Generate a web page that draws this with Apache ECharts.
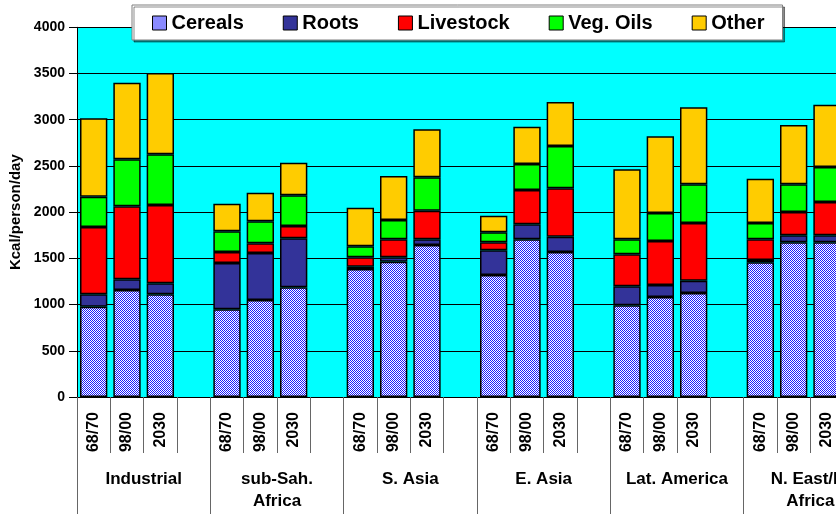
<!DOCTYPE html>
<html>
<head>
<meta charset="utf-8">
<script src="https://cdn.jsdelivr.net/npm/echarts@6/dist/echarts.min.js"></script>
<style>
html,body{margin:0;padding:0;background:#fff;}
#chart{width:836px;height:514px;}
</style>
</head>
<body>
<div id="chart"></div>
<script>
// ---- data (Kcal/person/day), 4 slots per region: 68/70, 98/00, 2030, spacer ----
var regions = ['Industrial', 'sub-Sah.\nAfrica', 'S. Asia', 'E. Asia', 'Lat. America', 'N. East/N.\nAfrica'];
var periods = ['68/70', '98/00', '2030', ''];
var yTicks = [0, 500, 1000, 1500, 2000, 2500, 3000, 3500, 4000];

var cereals   = [977, 1158, 1111, '-',  949, 1049, 1187, '-',  1385, 1464, 1644, '-',  1320, 1706, 1569, '-',  992, 1082, 1125, '-',  1457, 1674, 1674, '-'];
var roots     = [134,  115,  119, '-',  501,  509,  530, '-',    25,   47,   62, '-',   267,  162,  166, '-',  206,  130,  134, '-',    25,   75,   75, '-'];
var livestock = [728,  790,  847, '-',  119,  105,  133, '-',   101,  195,  310, '-',    87,  372,  523, '-',  346,  476,  624, '-',   224,  252,  361, '-'];
var vegOils   = [328,  509,  549, '-',  224,  238,  332, '-',   119,  209,  361, '-',   108,  281,  458, '-',  162,  303,  418, '-',   177,  300,  378, '-'];
var other     = [848,  829,  879, '-',  298,  310,  353, '-',   418,  476,  519, '-',   180,  404,  476, '-',  757,  830,  833, '-',   479,  642,  674, '-'];

var categories = [];
regions.forEach(function(){ periods.forEach(function(p){ categories.push(p); }); });

// checker pattern for cereals
var pc = document.createElement('canvas');
pc.width = 2; pc.height = 2;
var pctx = pc.getContext('2d');
pctx.fillStyle = '#ffffff'; pctx.fillRect(0,0,2,2);
pctx.fillStyle = '#1a1aff'; pctx.fillRect(0,0,1,1); pctx.fillRect(1,1,1,1);

var FONT = "'Liberation Sans', Arial, sans-serif";
var chart = echarts.init(document.getElementById('chart'));

function mk(name, data, color) {
  return {
    name: name, type: 'bar', stack: 'total', data: data,
    barWidth: '82%',
    itemStyle: { color: color, borderColor: '#000', borderWidth: 1.5 },
    emphasis: { disabled: true },
    animation: false
  };
}

chart.setOption({
  animation: false,
  textStyle: { fontFamily: FONT },
  legend: {
    data: [
      { name: 'Cereals', itemStyle: { color: '#8a8aff', borderColor: '#000', borderWidth: 1 } },
      { name: 'Roots', itemStyle: { borderWidth: 1 } },
      { name: 'Livestock', itemStyle: { borderWidth: 1 } },
      { name: 'Veg. Oils', itemStyle: { borderWidth: 1 } },
      { name: 'Other', itemStyle: { borderWidth: 1 } }
    ],
    left: 132, top: 5,
    padding: [8, 18, 7, 20],
    itemWidth: 14, itemHeight: 14, itemGap: 39,
    icon: 'rect',
    backgroundColor: '#fff',
    borderColor: '#7f7f7f', borderWidth: 1,
    shadowColor: 'rgba(0,0,0,0.45)', shadowOffsetX: 2, shadowOffsetY: 2, shadowBlur: 0,
    textStyle: { fontSize: 20, fontWeight: 'bold', color: '#000', fontFamily: FONT },
    selectedMode: false
  },
  grid: {
    left: 77, top: 27.3, width: 800, height: 369.7,
    containLabel: false, outerBoundsMode: 'none',
    show: true, backgroundColor: '#00ffff', borderWidth: 0
  },
  xAxis: [
    {
      type: 'category', data: categories, position: 'bottom',
      axisLine: { lineStyle: { color: '#000', width: 1 } },
      axisTick: { show: true, interval: 0, length: 56, lineStyle: { color: '#666', width: 1 } },
      axisLabel: { interval: 0, rotate: 90, margin: 15, fontSize: 16, fontWeight: 'bold', color: '#000', fontFamily: FONT }
    },
    {
      type: 'category', data: regions, position: 'bottom',
      axisLine: { show: false },
      axisTick: { show: true, interval: 0, length: 120, lineStyle: { color: '#666', width: 1 } },
      axisLabel: { interval: 0, margin: 71, fontSize: 17, fontWeight: 'bold', color: '#000', lineHeight: 22, fontFamily: FONT }
    }
  ],
  yAxis: {
    type: 'value', min: yTicks[0], max: yTicks[yTicks.length - 1], interval: 500,
    name: 'Kcal/person/day', nameLocation: 'middle', nameGap: 54,
    nameTextStyle: { fontSize: 15, fontWeight: 'bold', color: '#000', fontFamily: FONT },
    axisLine: { show: true, lineStyle: { color: '#000', width: 1 } },
    axisTick: { show: true, length: 8, lineStyle: { color: '#000' } },
    axisLabel: { margin: 12, fontSize: 14, fontWeight: 'bold', color: '#000', fontFamily: FONT,
                 formatter: function(v){ return String(v); } },
    splitLine: { show: true, lineStyle: { color: '#000', width: 1 } }
  },
  series: [
    mk('Cereals', cereals, { image: pc, repeat: 'repeat' }),
    mk('Roots', roots, '#333399'),
    mk('Livestock', livestock, '#ff0000'),
    mk('Veg. Oils', vegOils, '#00ff00'),
    mk('Other', other, '#ffcc00')
  ]
});
</script>
</body>
</html>
